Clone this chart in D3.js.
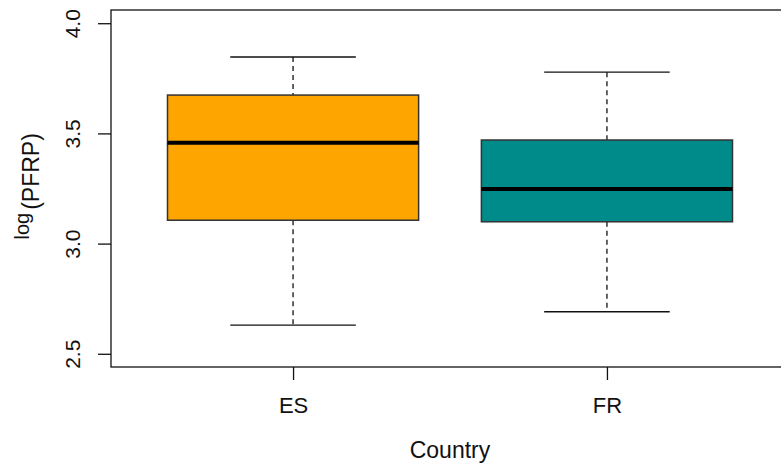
<!DOCTYPE html>
<html>
<head>
<meta charset="utf-8">
<script src="https://cdn.jsdelivr.net/npm/d3@7"></script>
<style>
  html, body { margin: 0; padding: 0; background: #fff; }
  svg { display: block; }
  text { font-family: "Liberation Sans", Arial, sans-serif; fill: #111; }
</style>
</head>
<body>
<div id="chart"></div>
<script>
// Box summaries of log(PFRP) by country
const categories = ["ES", "FR"];
const lowerWhisker = [2.630, 2.691];
const q1 = [3.106, 3.099];
const medians = [3.458, 3.248];
const q3 = [3.674, 3.470];
const upperWhisker = [3.847, 3.778];
const boxColors = ["#FFA500", "#008B8B"];
const yTicks = [2.5, 3.0, 3.5, 4.0];

const W = 781, H = 469;
const plot = { left: 111, right: 789, top: 10, bottom: 367 };

const svg = d3.select("#chart").append("svg")
  .attr("width", W).attr("height", H);

// x: group index positions 1..n, padded like a base-R boxplot
const x = d3.scaleLinear()
  .domain([0.42, categories.length + 0.58])
  .range([plot.left, plot.right]);
const y = d3.scaleLinear()
  .domain([2.44, 4.06])
  .range([plot.bottom, plot.top]);

const boxHalf = 0.4, capHalf = 0.2;

const data = categories.map((c, i) => ({
  name: c, pos: i + 1,
  lo: lowerWhisker[i], q1: q1[i], med: medians[i], q3: q3[i], hi: upperWhisker[i],
  color: boxColors[i]
}));

const g = svg.append("g");

const groups = g.selectAll("g.box").data(data).join("g").attr("class", "box");

// dashed whiskers
groups.append("line")
  .attr("x1", d => x(d.pos)).attr("x2", d => x(d.pos))
  .attr("y1", d => y(d.hi)).attr("y2", d => y(d.q3))
  .attr("stroke", "#111").attr("stroke-width", 1.3).attr("stroke-dasharray", "5,4");
groups.append("line")
  .attr("x1", d => x(d.pos)).attr("x2", d => x(d.pos))
  .attr("y1", d => y(d.q1)).attr("y2", d => y(d.lo))
  .attr("stroke", "#111").attr("stroke-width", 1.3).attr("stroke-dasharray", "5,4");

// whisker caps
["hi", "lo"].forEach(k => {
  groups.append("line")
    .attr("x1", d => x(d.pos - capHalf)).attr("x2", d => x(d.pos + capHalf))
    .attr("y1", d => y(d[k])).attr("y2", d => y(d[k]))
    .attr("stroke", "#111").attr("stroke-width", 1.4);
});

// boxes
groups.append("rect")
  .attr("x", d => x(d.pos - boxHalf))
  .attr("width", d => x(d.pos + boxHalf) - x(d.pos - boxHalf))
  .attr("y", d => y(d.q3))
  .attr("height", d => y(d.q1) - y(d.q3))
  .attr("fill", d => d.color)
  .attr("stroke", "#333").attr("stroke-width", 1.5);

// medians
groups.append("line")
  .attr("x1", d => x(d.pos - boxHalf)).attr("x2", d => x(d.pos + boxHalf))
  .attr("y1", d => y(d.med)).attr("y2", d => y(d.med))
  .attr("stroke", "#000").attr("stroke-width", 4);

// plot frame
svg.append("rect")
  .attr("x", plot.left).attr("y", plot.top)
  .attr("width", plot.right - plot.left).attr("height", plot.bottom - plot.top)
  .attr("fill", "none").attr("stroke", "#111").attr("stroke-width", 1.3);

// y axis
const yAxis = d3.axisLeft(y).tickValues(yTicks).tickFormat(d3.format(".1f"))
  .tickSize(13).tickPadding(0);
const ya = svg.append("g").attr("transform", `translate(${plot.left},0)`).call(yAxis);
ya.select(".domain").remove();
ya.selectAll(".tick line").attr("stroke", "#111").attr("stroke-width", 1.3);
ya.selectAll(".tick text")
  .attr("x", null).attr("dy", null)
  .attr("text-anchor", "middle")
  .attr("transform", "translate(-31,0) rotate(-90)")
  .style("font-size", "21px")
  .style("font-family", "'Liberation Sans', Arial, sans-serif")
  .attr("fill", "#111");

// x axis
const xAxis = d3.axisBottom(x).tickValues(data.map(d => d.pos))
  .tickFormat((d, i) => categories[i]).tickSize(13).tickPadding(0);
const xa = svg.append("g").attr("transform", `translate(0,${plot.bottom})`).call(xAxis);
xa.select(".domain").remove();
xa.selectAll(".tick line").attr("stroke", "#111").attr("stroke-width", 1.3);
xa.selectAll(".tick text")
  .attr("y", 46).attr("dy", null)
  .style("font-size", "22px")
  .style("font-family", "'Liberation Sans', Arial, sans-serif")
  .attr("fill", "#111");

// axis titles
svg.append("text")
  .attr("x", (plot.left + plot.right) / 2).attr("y", 458)
  .attr("text-anchor", "middle")
  .style("font-size", "23px")
  .text("Country");

const yt = svg.append("text")
  .attr("transform", `translate(39,${(plot.top + plot.bottom) / 2 + 51}) rotate(-90)`)
  .attr("text-anchor", "start");
yt.append("tspan").attr("dy", -10).style("font-size", "20px").text("log");
yt.append("tspan").attr("dy", 10).attr("dx", 3).style("font-size", "23px").text("(PFRP)");
</script>
</body>
</html>
